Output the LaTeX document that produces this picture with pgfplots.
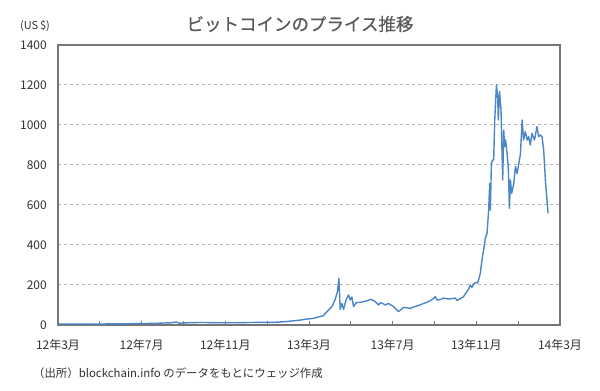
\documentclass[border=0pt]{standalone}
\usepackage{pgfplots}
\pgfplotsset{compat=1.18}
\usepackage{fontspec}
\setmainfont{Noto Sans CJK JP}
\newfontfamily\titlefont[FakeBold=0.6]{Noto Sans CJK JP}
\definecolor{linebl}{RGB}{74,134,200}
\definecolor{txtg}{RGB}{50,50,50}
\definecolor{titg}{RGB}{89,89,89}
\definecolor{frameg}{RGB}{118,118,118}
\definecolor{gridg}{RGB}{180,180,180}
\begin{document}
\begin{tikzpicture}
\useasboundingbox (-58pt,-66pt) rectangle (542pt,325pt);
\begin{axis}[
  scale only axis,
  width=502pt, height=280pt,
  xmin=0, xmax=24, ymin=0, ymax=1400,
  axis line style={frameg, line width=1.2pt},
  xtick={0,2,...,24},
  xticklabels={12年3月,,12年7月,,12年11月,,13年3月,,13年7月,,13年11月,,14年3月},
  xtick pos=bottom, tick align=inside,
  major tick length=4pt,
  xtick style={frameg, line width=0.8pt},
  ytick={0,200,...,1400},
  ytick style={draw=none},
  ymajorgrids,
  grid style={gridg, dash pattern=on 3pt off 3pt, line width=1pt},
  /pgf/number format/assume math mode=true,
  /pgf/number format/1000 sep={},
  tick label style={font=\fontsize{12}{14}\selectfont, text=txtg},
  yticklabel style={anchor=east, inner sep=0pt, xshift=-11pt},
  xticklabel style={anchor=north, inner sep=0pt, yshift=-14pt},
]
\addplot[linebl, line width=1.4pt, line join=round] table {
x y
0 4.9
0.5 4.9
1 5.0
1.5 5.1
2 5.2
2.5 5.3
3 5.6
3.5 6.5
4 7.0
4.3 7.6
4.6 8.5
4.9 9.2
5.2 10.5
5.45 11.2
5.58 13.5
5.65 15.5
5.72 12
5.82 8.5
6.0 10.5
6.3 11.5
6.6 12.2
7.0 12.5
7.5 11.5
8.0 11.0
8.5 11.5
9.0 12.2
9.5 13.0
10.0 13.5
10.3 13.4
10.6 15
10.9 17
11.1 19.5
11.3 21
11.6 25
11.9 30
12.2 33
12.44 40
12.68 46
12.86 67
12.97 78
13.1 92
13.25 128
13.36 167
13.43 233
13.49 78
13.57 108
13.65 78
13.78 128
13.89 150
13.97 125
14.05 140
14.13 92
14.26 112
14.45 113
14.61 117
14.8 122
14.93 128
15.05 124
15.17 117
15.33 100
15.41 112
15.55 106
15.65 100
15.8 108
15.92 100
16.04 92
16.16 80
16.28 67
16.4 78
16.52 88
16.7 86
16.84 83
17.0 90
17.16 95
17.3 100
17.48 108
17.6 112
17.72 117
17.9 128
18.04 142
18.12 125
18.3 128
18.44 135
18.55 132
18.67 130
18.85 132
19.0 135
19.08 122
19.2 130
19.39 142
19.55 167
19.63 180
19.71 200
19.79 188
19.87 205
19.97 212
20.06 210
20.12 230
20.19 258
20.27 325
20.32 358
20.35 375
20.43 433
20.51 458
20.59 575
20.64 708
20.67 575
20.72 808
20.78 825
20.83 825
20.88 1025
20.96 1200
21.02 1142
21.05 1025
21.11 1167
21.18 1075
21.26 725
21.31 975
21.35 892
21.40 925
21.47 858
21.53 780
21.58 583
21.63 725
21.69 658
21.79 708
21.87 792
21.95 758
22.02 800
22.11 858
22.19 1025
22.26 925
22.34 967
22.43 925
22.50 942
22.58 900
22.66 958
22.78 925
22.90 992
22.98 942
23.06 950
23.14 942
23.22 875
23.30 725
23.43 558
};
\end{axis}
\node[text=titg, font=\titlefont\fontsize{17.5}{20}\selectfont] at (242pt,301pt) {ビットコインのプライス推移};
\node[text=txtg, font=\fontsize{11}{13}\selectfont, anchor=west, inner sep=0pt] at (-38pt,299pt) {(US\,\$)};
\node[text=txtg, font=\fontsize{11.4}{13}\selectfont, anchor=west, inner sep=0pt] at (-25pt,-48pt) {（出所）blockchain.info のデータをもとにウェッジ作成};
\end{tikzpicture}
\end{document}
